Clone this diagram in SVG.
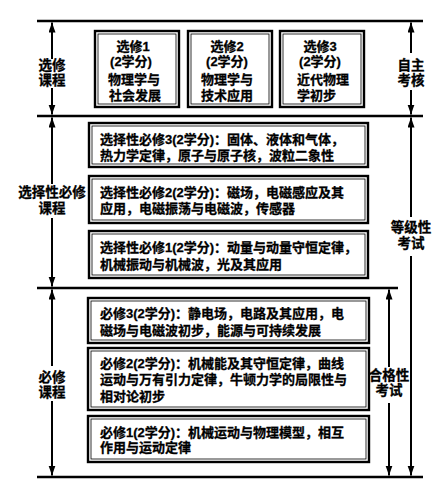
<svg xmlns="http://www.w3.org/2000/svg" width="443" height="493" viewBox="0 0 443 493">
<style>
text{font-family:"Liberation Sans","Noto Sans CJK SC",sans-serif;font-weight:bold;fill:#000;stroke:#000;stroke-width:0.3;}
.t{font-size:13px;}
.lb{font-size:13.5px;text-anchor:middle;}
.c{text-anchor:middle;}
.box{fill:#fff;stroke:#000;stroke-width:2.4;}
.inner{fill:none;stroke:#000;stroke-width:0.8;}
.hl{stroke:#000;stroke-width:2.5;}
.ar{stroke:#000;stroke-width:2;fill:none;}
.s{marker-start:url(#ah);}
.e{marker-end:url(#ah);}
</style>
<defs>
<marker id="ah" markerUnits="userSpaceOnUse" markerWidth="10" markerHeight="8" refX="10" refY="3.5" orient="auto-start-reverse">
<path d="M0,0 L10,3.5 L0,7 z" fill="#000"/>
</marker>
</defs>
<rect width="443" height="493" fill="#fff"/>
<g id="lines">
<line class="hl" x1="37" y1="21" x2="423" y2="21"/>
<line class="hl" x1="37" y1="116" x2="423" y2="116"/>
<line class="hl" x1="37" y1="288" x2="398" y2="288"/>
<line class="hl" x1="37" y1="477" x2="423" y2="477"/>
</g>
<g id="connectors">
<line class="ar s" x1="52" y1="22.5" x2="52" y2="59"/>
<line class="ar e" x1="52" y1="88" x2="52" y2="114.5"/>
<line class="ar s" x1="52" y1="117.5" x2="52" y2="184"/>
<line class="ar e" x1="52" y1="218" x2="52" y2="286.5"/>
<line class="ar s" x1="52" y1="289.5" x2="52" y2="366"/>
<line class="ar e" x1="52" y1="401" x2="52" y2="475.5"/>
<line class="ar s" x1="411" y1="22.5" x2="411" y2="53"/>
<line class="ar e" x1="411" y1="90" x2="411" y2="114.5"/>
<line class="ar s" x1="411" y1="117.5" x2="411" y2="217"/>
<line class="ar e" x1="411" y1="256" x2="411" y2="475.5"/>
<line class="ar s" x1="389" y1="289.5" x2="389" y2="367"/>
<line class="ar e" x1="389" y1="403" x2="389" y2="475.5"/>
</g>
<g id="label-xuanxiu">
<text class="lb" x="52" y="70">选修</text>
<text class="lb" x="52" y="85">课程</text>
</g>
<g id="label-xuanzebixiu">
<text class="lb" x="52" y="197">选择性必修</text>
<text class="lb" x="52" y="213">课程</text>
</g>
<g id="label-bixiu">
<text class="lb" x="52" y="382">必修</text>
<text class="lb" x="52" y="397">课程</text>
</g>
<g id="label-zizhu">
<text class="lb" x="411" y="70">自主</text>
<text class="lb" x="411" y="85">考核</text>
</g>
<g id="label-dengji">
<text class="lb" x="411" y="232">等级性</text>
<text class="lb" x="411" y="248">考试</text>
</g>
<g id="label-hege">
<text class="lb" x="389" y="380">合格性</text>
<text class="lb" x="389" y="395">考试</text>
</g>
<g id="xuanxiu1">
<rect class="box" x="95" y="31" width="84" height="76"/>
<rect class="inner" x="98" y="34" width="78" height="70"/>
<text class="t c" x="133" y="50.5">选修1</text>
<text class="t c" x="131" y="65.5">(2学分)</text>
<text class="t c" x="134" y="83.5">物理学与</text>
<text class="t c" x="135" y="99.5">社会发展</text>
</g>
<g id="xuanxiu2">
<rect class="box" x="188" y="31" width="84" height="76"/>
<rect class="inner" x="191" y="34" width="78" height="70"/>
<text class="t c" x="227" y="50.5">选修2</text>
<text class="t c" x="227" y="65.5">(2学分)</text>
<text class="t c" x="227" y="83.5">物理学与</text>
<text class="t c" x="227" y="99.5">技术应用</text>
</g>
<g id="xuanxiu3">
<rect class="box" x="280" y="31" width="84" height="76"/>
<rect class="inner" x="283" y="34" width="78" height="70"/>
<text class="t c" x="320" y="50.5">选修3</text>
<text class="t c" x="320" y="65.5">(2学分)</text>
<text class="t" x="297" y="83.5">近代物理</text>
<text class="t" x="297" y="99.5">学初步</text>
</g>
<g id="xzbx3">
<rect class="box" x="89" y="123" width="279" height="44"/>
<rect class="inner" x="92" y="126" width="273" height="38"/>
<text class="t" x="100" y="144">选择性必修3(2学分)：固体、液体和气体，</text>
<text class="t" x="100" y="159.5">热力学定律，原子与原子核，波粒二象性</text>
</g>
<g id="xzbx2">
<rect class="box" x="89" y="176" width="279" height="47"/>
<rect class="inner" x="92" y="179" width="273" height="41"/>
<text class="t" x="100" y="197">选择性必修2(2学分)：磁场，电磁感应及其</text>
<text class="t" x="100" y="212.5">应用，电磁振荡与电磁波，传感器</text>
</g>
<g id="xzbx1">
<rect class="box" x="89" y="231" width="279" height="47"/>
<rect class="inner" x="92" y="234" width="273" height="41"/>
<text class="t" x="100" y="252">选择性必修1(2学分)：动量与动量守恒定律，</text>
<text class="t" x="100" y="268.5">机械振动与机械波，光及其应用</text>
</g>
<g id="bixiu3">
<rect class="box" x="88" y="298" width="281" height="45"/>
<rect class="inner" x="91" y="301" width="275" height="39"/>
<text class="t" x="100" y="318">必修3(2学分)：静电场，电路及其应用，电</text>
<text class="t" x="100" y="334.5">磁场与电磁波初步，能源与可持续发展</text>
</g>
<g id="bixiu2">
<rect class="box" x="88" y="348" width="281" height="62"/>
<rect class="inner" x="91" y="351" width="275" height="56"/>
<text class="t" x="100" y="367.5">必修2(2学分)：机械能及其守恒定律，曲线</text>
<text class="t" x="100" y="383.5">运动与万有引力定律，牛顿力学的局限性与</text>
<text class="t" x="100" y="401">相对论初步</text>
</g>
<g id="bixiu1">
<rect class="box" x="88" y="416" width="281" height="46"/>
<rect class="inner" x="91" y="419" width="275" height="40"/>
<text class="t" x="100" y="436.5">必修1(2学分)：机械运动与物理模型，相互</text>
<text class="t" x="100" y="452">作用与运动定律</text>
</g>
</svg>
